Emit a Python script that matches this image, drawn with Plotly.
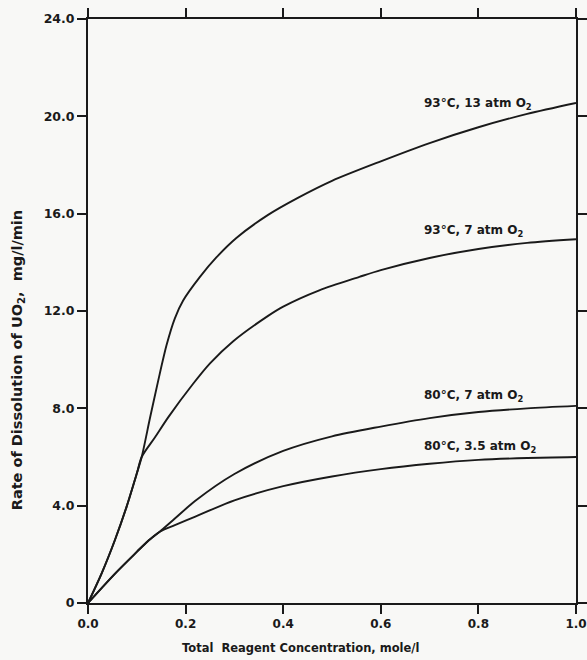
import plotly.graph_objects as go

# ---- data ----
x_93_13 = [0, 0.028, 0.055, 0.079, 0.1, 0.11, 0.127, 0.144, 0.161, 0.178, 0.195, 0.229, 0.263, 0.304,
           0.369, 0.43, 0.5, 0.6, 0.7, 0.8, 0.9, 1.0]
y_93_13 = [0, 1.22, 2.58, 3.95, 5.32, 6.0, 7.6, 9.15, 10.6, 11.7, 12.43, 13.39, 14.2, 15.0,
           15.95, 16.65, 17.35, 18.15, 18.9, 19.55, 20.1, 20.55]

x_93_7 = [0, 0.028, 0.055, 0.079, 0.1, 0.11, 0.137, 0.165, 0.215, 0.25, 0.297, 0.369, 0.4,
          0.474, 0.556, 0.6, 0.7, 0.8, 0.9, 1.0]
y_93_7 = [0, 1.22, 2.58, 3.95, 5.32, 6.0, 6.8, 7.65, 9.0, 9.85, 10.75, 11.8, 12.18,
          12.85, 13.4, 13.68, 14.18, 14.55, 14.8, 14.95]

x_80_7 = [0, 0.055, 0.1, 0.123, 0.147, 0.178, 0.22, 0.3, 0.4, 0.5, 0.6, 0.7, 0.8, 0.9, 1.0]
y_80_7 = [0, 1.2, 2.1, 2.55, 2.93, 3.47, 4.2, 5.3, 6.25, 6.85, 7.25, 7.6, 7.85, 8.0, 8.1]

x_80_35 = [0, 0.055, 0.1, 0.123, 0.147, 0.178, 0.22, 0.3, 0.4, 0.5, 0.6, 0.7, 0.8, 0.9, 1.0]
y_80_35 = [0, 1.2, 2.1, 2.55, 2.93, 3.2, 3.55, 4.22, 4.8, 5.2, 5.5, 5.72, 5.88, 5.96, 6.0]

series_labels = ["93°C, 13 atm O<sub>2</sub>", "93°C, 7 atm O<sub>2</sub>",
                 "80°C, 7 atm O<sub>2</sub>", "80°C, 3.5 atm O<sub>2</sub>"]
label_x = [0.685, 0.685, 0.685, 0.685]
label_y = [20.5, 15.3, 8.5, 6.4]

x_tickvals = [0.0, 0.2, 0.4, 0.6, 0.8, 1.0]
x_ticktext = ["0.0", "0.2", "0.4", "0.6", "0.8", "1.0"]
y_tickvals = [0, 4, 8, 12, 16, 20, 24]
y_ticktext = ["0", "4.0", "8.0", "12.0", "16.0", "20.0", "24.0"]

FONT = "DejaVu Sans"
INK = "#1a1a1a"

fig = go.Figure()
for xs, ys in [(x_93_13, y_93_13), (x_93_7, y_93_7), (x_80_7, y_80_7), (x_80_35, y_80_35)]:
    fig.add_trace(go.Scatter(x=xs, y=ys, mode="lines",
                             line=dict(color=INK, width=1.9, shape="spline", smoothing=0.8),
                             showlegend=False, hoverinfo="skip"))

for t, lx, ly in zip(series_labels, label_x, label_y):
    fig.add_annotation(x=lx, y=ly, text="<b>" + t + "</b>", showarrow=False,
                       xanchor="left", yanchor="middle",
                       font=dict(family=FONT, size=12, color=INK))

axis_common = dict(showgrid=False, zeroline=False, showline=True, linecolor=INK,
                   linewidth=2, ticks="outside", tickcolor=INK, tickwidth=2,
                   ticklen=9, mirror="ticks", automargin=False,
                   ticklabeloverflow="allow")

fig.update_xaxes(range=[0, 1.0], tickvals=x_tickvals,
                 ticktext=["<b>" + s + "</b>" for s in x_ticktext],
                 tickfont=dict(family=FONT, size=12, color=INK), **axis_common)
fig.update_yaxes(range=[0, 24], tickvals=y_tickvals,
                 ticktext=["<b>" + s + "</b>" for s in y_ticktext],
                 tickfont=dict(family=FONT, size=12.5, color=INK), **axis_common)

fig.add_annotation(xref="paper", yref="paper", x=-0.143, y=0.416,
                   text="<b>Rate of Dissolution of UO<sub>2</sub>,  mg/l/min</b>",
                   textangle=-90, showarrow=False, xanchor="center", yanchor="middle",
                   font=dict(family=FONT, size=14.5, color=INK))
fig.add_annotation(xref="paper", yref="paper", x=0.4365, y=-0.077,
                   text="<b>Total  Reagent Concentration, mole/l</b>",
                   showarrow=False, xanchor="center", yanchor="middle",
                   font=dict(family=FONT, size=11.5, color=INK))

fig.update_layout(width=587, height=660,
                  margin=dict(l=88, r=11, t=19, b=57, autoexpand=False),
                  paper_bgcolor="#f8f8f6", plot_bgcolor="#f8f8f6")

fig.write_html("out.html", config={"displayModeBar": False},
               post_script="document.body.style.margin='0';document.body.style.overflow='hidden';")
